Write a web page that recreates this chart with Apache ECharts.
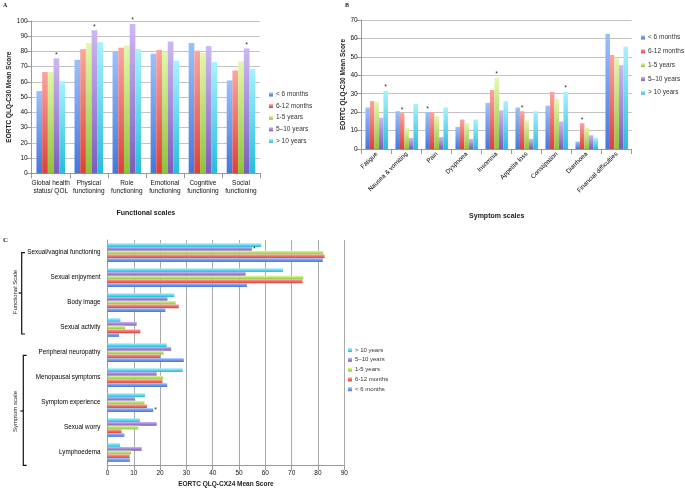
<!DOCTYPE html>
<html><head><meta charset="utf-8">
<script src="https://cdn.jsdelivr.net/npm/echarts@6/dist/echarts.min.js"></script>
<style>html,body{margin:0;padding:0;background:#fff}#c{width:685px;height:489px}</style>
</head><body><div id="c"></div><script>
const seriesNames = ['< 6 months','6-12 months','1-5 years','5\u201310 years','> 10 years'];

// Panel A: QLQ-C30 functional scales
const catsA = ['Global health\nstatus/ QOL','Physical\nfunctioning','Role\nfunctioning','Emotional\nfunctioning','Cognitive\nfunctioning','Social\nfunctioning'];
const aLt6   = [54, 74.5, 80, 78.5, 85.5, 61];
const a6to12 = [66.5, 81.5, 82.5, 81, 80.5, 67.5];
const a1to5  = [66.5, 85.5, 84, 80, 79, 73.5];
const a5to10 = [75.5, 94, 98, 86.5, 83.5, 82];
const aGt10  = [60.5, 86, 81.5, 74, 73, 68.5];
const starsA = [[], [], [], [0, 1, 2, 5], []];

// Panel B: QLQ-C30 symptom scales
const catsB = ['Fatigue','Nausea & vomiting','Pain','Dyspnoea','Insomnia','Appetite loss','Constipation','Diarrhoea','Financial difficulties'];
const bLt6   = [22.5, 20.5, 20, 12, 25, 22.5, 23.5, 4, 62.5];
const b6to12 = [26, 19.5, 20, 16, 32, 20.5, 31, 14, 51];
const b1to5  = [25.5, 11.5, 18, 14, 38.5, 15.5, 27, 11.5, 49.5];
const b5to10 = [17, 6, 6.5, 5.5, 21, 5.5, 15, 7.5, 45.5];
const bGt10  = [31.5, 24.5, 22.5, 16, 26, 20.5, 31, 6, 55.5];
const starsB = [[2], [1, 5, 7], [4], [], [0, 6]];

// Panel C: QLQ-CX24 (top to bottom)
const catsC = ['Sexual/vaginal functioning','Sexual enjoyment','Body image','Sexual activity','Peripheral neuropathy','Menopausal symptoms','Symptom experience','Sexual worry','Lymphoedema'];
const cLt6   = [81.8, 53, 22, 4.4, 29, 22.7, 17.4, 6.4, 8.5];
const c6to12 = [82.5, 74.1, 27.1, 12.5, 20, 20.9, 15, 5.3, 8.4];
const c1to5  = [82, 74.4, 25.9, 6.7, 21.3, 21.2, 14.1, 11.7, 9];
const c5to10 = [54.9, 52.5, 22.8, 11.1, 24.2, 18.7, 10.5, 18.7, 13];
const cGt10  = [58.4, 66.7, 25.4, 4.9, 22.5, 28.6, 14.3, 12.3, 4.8];
const starsC = [[6], [], [], [0], []];

const topCols = ['#9cc0fa','#fba5a0','#e4f8ac','#cdb8f2','#a8f2ff'];
const botCols = ['#4477dd','#dd4038','#8fc23a','#7c5cbc','#28bcdc'];
const FONT = 'Liberation Sans, Arial, sans-serif';

function grad(i){
  return new echarts.graphic.LinearGradient(0,0,0,1,[{offset:0,color:topCols[i]},{offset:1,color:botCols[i]}]);
}
function mk(vals, stars, pos){
  return vals.map((v,i)=> stars.includes(i) ? {value:v, label:{show:true, formatter:'*', position:pos, distance:pos==='top'?0:1, fontSize:7, color:'#333', fontFamily:FONT}} : v);
}

const A = [aLt6,a6to12,a1to5,a5to10,aGt10];
const B = [bLt6,b6to12,b1to5,b5to10,bGt10];
const C = [cLt6,c6to12,c1to5,c5to10,cGt10];

const series = [];
A.forEach((d,i)=>series.push({name:seriesNames[i],type:'bar',xAxisIndex:0,yAxisIndex:0,data:mk(d,starsA[i],'top'),itemStyle:{color:grad(i)},barGap:'0%',barCategoryGap:'25%',animation:false}));
B.forEach((d,i)=>series.push({name:seriesNames[i],type:'bar',xAxisIndex:1,yAxisIndex:1,data:mk(d,starsB[i],'top'),itemStyle:{color:grad(i)},barGap:'0%',barCategoryGap:'25%',animation:false}));
[4,3,2,1,0].forEach(i=>series.push({name:seriesNames[i],type:'bar',xAxisIndex:2,yAxisIndex:2,data:mk(C[i],starsC[i],'right'),itemStyle:{color:grad(i)},barGap:'0%',barCategoryGap:'25%',animation:false}));

const axisGray = {lineStyle:{color:'#999',width:1}};
const lbl = (fs)=>({fontSize:fs,color:'#111',fontFamily:FONT});
const legendBase = {orient:'vertical',itemWidth:4,itemHeight:4,selectedMode:false,icon:'rect',textStyle:{fontSize:6.5,color:'#333',fontFamily:FONT,padding:[0,0,0,-2]}};

const option = {
  backgroundColor:'#fff',
  animation:false,
  textStyle:{fontFamily:FONT},
  grid:[
    {left:31.7, top:21, width:228.3, height:152.3},
    {left:361.7, top:20, width:270, height:129},
    {left:107.5, top:240, width:236.8, height:228}
  ],
  legend:[
    Object.assign({},legendBase,{left:264,top:86,itemGap:4.6,data:seriesNames}),
    Object.assign({},legendBase,{left:636,top:29,itemGap:6.8,data:seriesNames}),
    Object.assign({},legendBase,{left:343,top:342,itemGap:3.8,textStyle:{fontSize:6,color:'#333',fontFamily:FONT,padding:[0,0,0,-2]},data:seriesNames.slice().reverse()})
  ],
  xAxis:[
    {type:'category',gridIndex:0,data:catsA,axisLine:axisGray,axisTick:{show:true,lineStyle:{color:'#999'}},
     axisLabel:Object.assign(lbl(6.5),{interval:0,lineHeight:8,margin:6}),
     name:'Functional scales',nameLocation:'middle',nameGap:36,nameTextStyle:{fontSize:7,fontWeight:'bold',color:'#222',fontFamily:FONT}},
    {type:'category',gridIndex:1,data:catsB,axisLine:axisGray,axisTick:{show:true,lineStyle:{color:'#999'}},
     axisLabel:Object.assign(lbl(6.3),{interval:0,rotate:45,margin:4,color:'#000'}),
     name:'Symptom scales',nameLocation:'middle',nameGap:64,nameTextStyle:{fontSize:7,fontWeight:'bold',color:'#222',fontFamily:FONT}},
    {type:'value',gridIndex:2,min:0,max:90,interval:10,axisLine:{show:true,lineStyle:{color:'#999'}},axisTick:{show:true,lineStyle:{color:'#999'}},
     splitLine:{show:true,lineStyle:{color:'#aaa'}},axisLabel:Object.assign(lbl(6.5),{margin:5}),
     name:'EORTC QLQ-CX24 Mean Score',nameLocation:'middle',nameGap:16,nameTextStyle:{fontSize:6.5,fontWeight:'bold',color:'#222',fontFamily:FONT}}
  ],
  yAxis:[
    {type:'value',gridIndex:0,min:0,max:100,interval:10,axisLine:{show:true,lineStyle:{color:'#999'}},axisTick:{show:true,lineStyle:{color:'#999'}},
     splitLine:{lineStyle:{color:'#c4c4c4'}},axisLabel:Object.assign(lbl(6.5),{margin:4}),
     name:'EORTC QLQ-C30 Mean Score',nameLocation:'middle',nameGap:17,nameTextStyle:{fontSize:6.5,fontWeight:'bold',color:'#222',fontFamily:FONT}},
    {type:'value',gridIndex:1,min:0,max:70,interval:10,axisLine:{show:true,lineStyle:{color:'#999'}},axisTick:{show:true,lineStyle:{color:'#999'}},
     splitLine:{lineStyle:{color:'#c4c4c4'}},axisLabel:Object.assign(lbl(6.5),{margin:4}),
     name:'EORTC QLQ-C30 Mean Score',nameLocation:'middle',nameGap:14,nameTextStyle:{fontSize:6.5,fontWeight:'bold',color:'#222',fontFamily:FONT}},
    {type:'category',gridIndex:2,inverse:true,data:catsC,axisLine:{show:true,lineStyle:{color:'#999'}},axisTick:{show:false},
     axisLabel:Object.assign(lbl(6.3),{interval:0,margin:7,color:'#000'})}
  ],
  graphic:[
    {type:'text',x:3,y:2,style:{text:'A',fontSize:6,fontWeight:'bold',fontFamily:'Liberation Serif, serif',fill:'#222'}},
    {type:'text',x:345,y:2,style:{text:'B',fontSize:6,fontWeight:'bold',fontFamily:'Liberation Serif, serif',fill:'#222'}},
    {type:'text',x:3,y:237,style:{text:'C',fontSize:7,fontWeight:'bold',fontFamily:'Liberation Serif, serif',fill:'#222'}},
    {type:'polyline',shape:{points:[[25,252.7],[21.7,252.7],[21.7,334],[25,334]]},style:{stroke:'#111',lineWidth:1.2,fill:null}},
    {type:'polyline',shape:{points:[[21.7,293],[18.6,293]]},style:{stroke:'#111',lineWidth:1.2,fill:null}},
    {type:'polyline',shape:{points:[[26.7,355.3],[23.3,355.3],[23.3,465.3],[26.7,465.3]]},style:{stroke:'#111',lineWidth:1.2,fill:null}},
    {type:'polyline',shape:{points:[[23.3,411],[20.4,411]]},style:{stroke:'#111',lineWidth:1.2,fill:null}},
    {type:'text',x:15.2,y:292,rotation:Math.PI/2,style:{text:'Functional Scale',align:'center',verticalAlign:'middle',fontSize:6,fontFamily:FONT,fill:'#222'}},
    {type:'text',x:15.2,y:411.5,rotation:Math.PI/2,style:{text:'Symptom scale',align:'center',verticalAlign:'middle',fontSize:6,fontFamily:FONT,fill:'#222'}}
  ],
  series:series
};
const chart = echarts.init(document.getElementById('c'),null,{renderer:'canvas'});
chart.setOption(option);
</script></body></html>
